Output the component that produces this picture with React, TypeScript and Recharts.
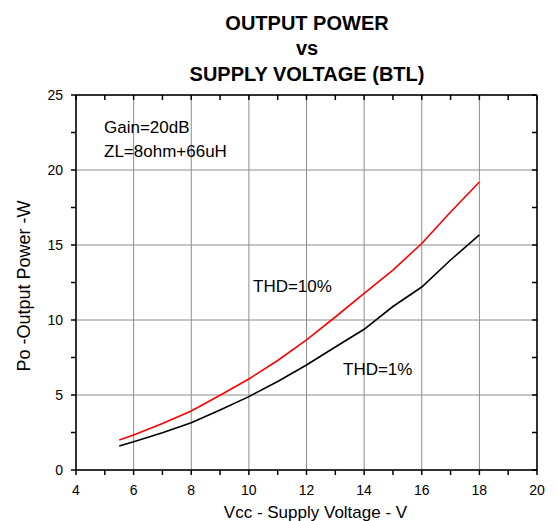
import { CartesianGrid, Line, LineChart, XAxis, YAxis } from "recharts";

// supply voltage (V) where the curves were sampled
const vcc = [5.5, 6, 7, 8, 9, 10, 11, 12, 13, 14, 15, 16, 17, 18];
// output power (W) at THD=10% and THD=1%
const thd10 = [2.0, 2.33, 3.1, 3.93, 4.98, 6.07, 7.3, 8.67, 10.2, 11.78, 13.33, 15.1, 17.2, 19.2];
const thd1 = [1.6, 1.89, 2.49, 3.15, 4.0, 4.89, 5.9, 7.0, 8.2, 9.38, 10.9, 12.2, 14.0, 15.67];

const xTicks = [4, 5, 6, 7, 8, 9, 10, 11, 12, 13, 14, 15, 16, 17, 18, 19, 20];
const xMajor = [4, 6, 8, 10, 12, 14, 16, 18, 20];
const yTicks = [0, 2.5, 5, 7.5, 10, 12.5, 15, 17.5, 20, 22.5, 25];
const yMajor = [0, 5, 10, 15, 20, 25];

const titleLines = ["OUTPUT POWER", "vs", "SUPPLY VOLTAGE (BTL)"];

const data = vcc.map((v, i) => ({ vcc: v, thd10: thd10[i], thd1: thd1[i] }));

const FONT = "Arial, 'Liberation Sans', Helvetica, sans-serif";
const tickStyle = { fill: "#000", fontSize: 14, fontFamily: FONT };
const axisStroke = { stroke: "#000", strokeWidth: 1.5 };

const majorOnly = (list: number[]) => (v: number) => (list.includes(v) ? String(v) : "");

const W = 557;
const H = 521;
const margin = { top: 95, right: 20, bottom: 21, left: 16 };
const Y_AXIS_W = 60;
const X_AXIS_H = 30;
const X_DOMAIN = [4, 20];
const Y_DOMAIN = [0, 25];

// plot box, same as the one recharts lays out from margin + axis sizes
const box = {
  left: margin.left + Y_AXIS_W,
  right: W - margin.right,
  top: margin.top,
  bottom: H - margin.bottom - X_AXIS_H,
};
const px = (v: number) =>
  box.left + ((v - X_DOMAIN[0]) / (X_DOMAIN[1] - X_DOMAIN[0])) * (box.right - box.left);
const py = (v: number) =>
  box.bottom - ((v - Y_DOMAIN[0]) / (Y_DOMAIN[1] - Y_DOMAIN[0])) * (box.bottom - box.top);

export default function App() {
  return (
    <div style={{ position: "relative", width: W, height: H, background: "#fff" }}>
      <style>{"body{margin:0}"}</style>
      <LineChart width={W} height={H} data={data} margin={margin}>
        <CartesianGrid
          stroke="#8c8c8c"
          strokeWidth={1}
          verticalValues={xMajor}
          horizontalValues={yMajor}
        />
        <XAxis
          type="number"
          dataKey="vcc"
          domain={X_DOMAIN}
          ticks={xTicks}
          interval={0}
          height={X_AXIS_H}
          tickSize={5}
          tickMargin={10}
          tick={tickStyle}
          tickFormatter={majorOnly(xMajor)}
          axisLine={axisStroke}
          tickLine={axisStroke}
        />
        <YAxis
          type="number"
          domain={Y_DOMAIN}
          ticks={yTicks}
          interval={0}
          width={Y_AXIS_W}
          tickSize={5}
          tickMargin={8}
          tick={tickStyle}
          tickFormatter={majorOnly(yMajor)}
          axisLine={axisStroke}
          tickLine={axisStroke}
        />
        <Line
          dataKey="thd10"
          stroke="#ff0000"
          strokeWidth={1.6}
          dot={false}
          isAnimationActive={false}
        />
        <Line
          dataKey="thd1"
          stroke="#000000"
          strokeWidth={1.6}
          dot={false}
          isAnimationActive={false}
        />
      </LineChart>

      <svg
        width={W}
        height={H}
        style={{ position: "absolute", left: 0, top: 0, pointerEvents: "none" }}
        fontFamily={FONT}
      >
        {/* top and right frame with inward ticks */}
        <g stroke="#000" strokeWidth={1.5}>
          <line x1={box.left} x2={box.right} y1={box.top} y2={box.top} />
          <line x1={box.right} x2={box.right} y1={box.top} y2={box.bottom} />
          {xTicks.map((v) => (
            <line key={`tx${v}`} x1={px(v)} x2={px(v)} y1={box.top} y2={box.top + 5} />
          ))}
          {yTicks.map((v) => (
            <line key={`ty${v}`} x1={box.right} x2={box.right - 5} y1={py(v)} y2={py(v)} />
          ))}
        </g>
        <text x={307} y={29.5} textAnchor="middle" fontSize={20} fontWeight="bold">
          {titleLines[0]}
        </text>
        <text x={307} y={55} textAnchor="middle" fontSize={20} fontWeight="bold">
          {titleLines[1]}
        </text>
        <text x={307} y={80.5} textAnchor="middle" fontSize={20} fontWeight="bold">
          {titleLines[2]}
        </text>
        <text x={104} y={133} fontSize={17}>Gain=20dB</text>
        <text x={104} y={157} fontSize={17}>ZL=8ohm+66uH</text>
        <text x={253} y={292} fontSize={17}>THD=10%</text>
        <text x={343} y={375} fontSize={17}>THD=1%</text>
        <text x={315.5} y={518} textAnchor="middle" fontSize={17}>
          Vcc - Supply Voltage - V
        </text>
        <text transform="translate(30,286) rotate(-90)" textAnchor="middle" fontSize={18}>
          Po -Output Power -W
        </text>
      </svg>
    </div>
  );
}
